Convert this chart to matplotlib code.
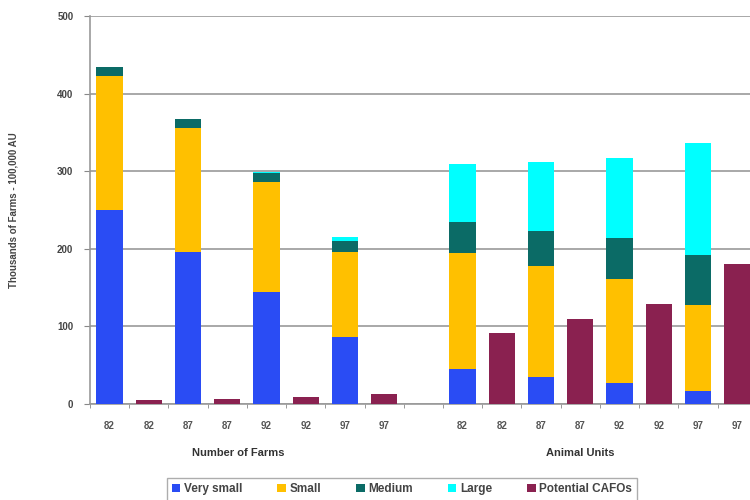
import matplotlib
matplotlib.use("Agg")
import matplotlib.pyplot as plt
from matplotlib.patches import Patch
from matplotlib.ticker import FixedLocator
import numpy as np

plt.rcParams['font.family'] = ['Liberation Sans', 'DejaVu Sans']

# Slot labels along the x axis (empty slot separates the two groups)
tick_labels = ["82", "82", "87", "87", "92", "92", "97", "97", "",
               "82", "82", "87", "87", "92", "92", "97", "97"]

# Stacked bars: farm counts (thousands) and animal units (100,000 AU)
stack_slots = [0, 2, 4, 6, 9, 11, 13, 15]
very_small = [250, 196, 144, 86, 45, 35, 27, 17]
small = [173, 160, 142, 110, 150, 143, 134, 111]
medium = [11, 11, 12, 14, 40, 45, 53, 64]
large = [0.5, 0.5, 1.5, 5, 74, 89, 103, 144]

# Potential CAFOs bars
cafo_slots = [1, 3, 5, 7, 10, 12, 14, 16]
cafo = [5, 6, 9, 13, 91, 110, 129, 180]

series_names = ["Very small", "Small", "Medium", "Large", "Potential CAFOs"]
colors = ["#2a4cf4", "#ffc000", "#0b6b66", "#00ffff", "#8a2150"]

fig = plt.figure(figsize=(7.5, 5), dpi=100)
ax = fig.add_axes([0.12, 0.192, 0.889, 0.776])

w = 0.67
bottom = np.zeros(len(stack_slots))
for vals, col in zip([very_small, small, medium, large], colors[:4]):
    ax.bar(stack_slots, vals, width=w, bottom=bottom, color=col, zorder=3)
    bottom += np.array(vals)
ax.bar(cafo_slots, cafo, width=w, color=colors[4], zorder=3)

ax.set_xlim(-0.5, 16.5)
ax.set_ylim(0, 500)
ax.set_yticks([0, 100, 200, 300, 400, 500])
ax.set_yticklabels(["0", "100", "200", "300", "400", "500"],
                   fontsize=7, fontweight='bold', color='#444444')
ax.yaxis.grid(True, color='#9a9a9a', linewidth=1.2, zorder=0)
ax.set_axisbelow(True)

ax.set_xticks(range(len(tick_labels)))
ax.set_xticklabels(tick_labels, fontsize=7, fontweight='bold', color='#555555')
ax.tick_params(axis='x', which='major', length=0, pad=12)
ax.xaxis.set_minor_locator(FixedLocator(np.arange(-0.5, 17, 1)))
ax.tick_params(axis='x', which='minor', length=3, color='#888888')
ax.tick_params(axis='y', length=4, color='#888888', pad=8)

for s in ['top', 'right']:
    ax.spines[s].set_visible(False)
for s in ['left', 'bottom']:
    ax.spines[s].set_color('#999999')
    ax.spines[s].set_linewidth(1.2)

ax.set_ylabel("Thousands of Farms - 100,000 AU", fontsize=7,
              fontweight='bold', color='#444444', labelpad=28)

ax.text(3.27, -0.125, "Number of Farms", transform=ax.get_xaxis_transform(),
        ha='center', va='center', fontsize=8, fontweight='bold', color='#333333')
ax.text(12.0, -0.125, "Animal Units", transform=ax.get_xaxis_transform(),
        ha='center', va='center', fontsize=8, fontweight='bold', color='#333333')

handles = [Patch(facecolor=c, edgecolor='none') for c in colors]
leg = fig.legend(handles, series_names, loc='lower center',
                 bbox_to_anchor=(0.536, -0.013), ncol=5, frameon=True,
                 fancybox=False, edgecolor='#999999', fontsize=8.5,
                 handlelength=0.7, handleheight=0.7, handletextpad=0.3,
                 columnspacing=3.0, borderpad=0.45)
leg.get_frame().set_linewidth(1.0)
for t in leg.get_texts():
    t.set_fontweight('bold')
    t.set_color('#444444')

fig.savefig("out.png", dpi=100)
